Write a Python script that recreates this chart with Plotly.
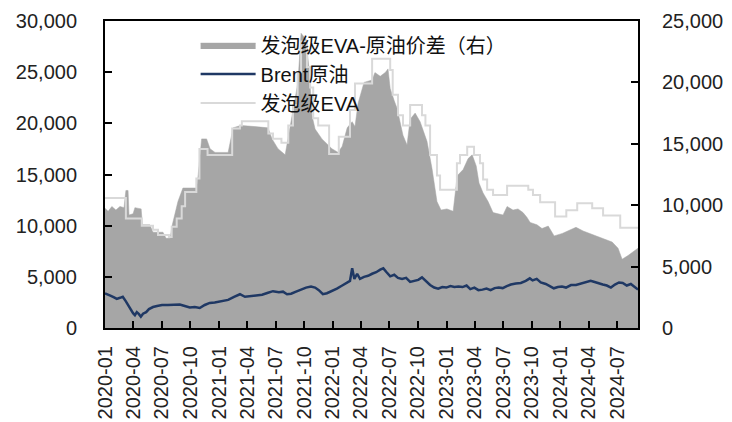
import plotly.graph_objects as go

# 发泡级EVA-原油价差 (right axis)
spread_dates = [
    "2020-01-01", "2020-01-11", "2020-01-23", "2020-02-05", "2020-02-18", "2020-03-02",
    "2020-03-08", "2020-03-15", "2020-03-18", "2020-03-31", "2020-04-06", "2020-04-26",
    "2020-04-30", "2020-05-24", "2020-06-03", "2020-07-05", "2020-07-15", "2020-07-28",
    "2020-08-03", "2020-08-22", "2020-09-07", "2020-10-21", "2020-10-26", "2020-11-06",
    "2020-11-22", "2020-12-03", "2020-12-19", "2021-01-30", "2021-02-15", "2021-03-12",
    "2021-04-26", "2021-06-07", "2021-06-20", "2021-07-09", "2021-08-01", "2021-08-10",
    "2021-08-26", "2021-09-11", "2021-09-21", "2021-10-07", "2021-10-17", "2021-10-26",
    "2021-11-05", "2021-11-27", "2021-12-29", "2022-01-18", "2022-01-31", "2022-02-16",
    "2022-03-04", "2022-03-13", "2022-03-23", "2022-04-11", "2022-05-07", "2022-05-16",
    "2022-06-02", "2022-06-18", "2022-06-27", "2022-07-04", "2022-07-17", "2022-07-26",
    "2022-08-14", "2022-08-27", "2022-09-06", "2022-09-22", "2022-10-08", "2022-10-30",
    "2022-11-15", "2022-12-01", "2022-12-14", "2023-01-02", "2023-01-22", "2023-02-04",
    "2023-02-23", "2023-03-11", "2023-03-24", "2023-04-06", "2023-04-15", "2023-04-28",
    "2023-05-14", "2023-05-30", "2023-06-15", "2023-07-01", "2023-07-14", "2023-08-02",
    "2023-08-18", "2023-09-03", "2023-09-16", "2023-09-26", "2023-10-18", "2023-11-03",
    "2023-11-23", "2023-12-12", "2024-01-07", "2024-01-26", "2024-02-20", "2024-03-14",
    "2024-04-12", "2024-05-14", "2024-06-15", "2024-07-04", "2024-07-17", "2024-08-05",
    "2024-08-25", "2024-09-06",
]
spread_values = [
    9750, 9500, 9900, 9600, 9900, 9800,
    11200, 11200, 9200, 9300, 9800, 9700,
    8400, 8400, 7800, 7800, 7300, 7300,
    8300, 10300, 11400, 11400, 12500, 15400,
    15400, 14600, 14300, 14300, 16300, 16500,
    16400, 16300, 15400, 14600, 14100, 15400,
    17900, 20000, 24000, 23500, 21000, 17300,
    16200, 15400, 14600, 14300, 14800, 16300,
    16800, 16400, 18300, 20000, 20200, 20800,
    20500, 20800, 21100, 19500, 18500, 17900,
    15700, 14900, 17000, 17500, 16800, 15200,
    13000, 10300, 9600, 9700, 9500, 12400,
    12900, 13800, 14100, 13200, 11800, 11000,
    10300, 9400, 9300, 9200, 9900, 9600,
    9700, 9400, 9000, 8600, 8400, 8100,
    8300, 7500, 7700, 7900, 8200, 7900,
    7600, 7300, 7000, 6500, 5600, 5900,
    6300, 6500,
]

# Brent原油 (left axis)
brent_dates = [
    "2020-01-01", "2020-01-11", "2020-01-20", "2020-01-30", "2020-02-08", "2020-02-18",
    "2020-02-27", "2020-03-08", "2020-03-18", "2020-03-24", "2020-03-31", "2020-04-06",
    "2020-04-12", "2020-04-19", "2020-04-25", "2020-05-02", "2020-05-12", "2020-05-21",
    "2020-06-03", "2020-06-16", "2020-07-02", "2020-07-21", "2020-08-09", "2020-08-28",
    "2020-09-13", "2020-09-29", "2020-10-15", "2020-10-31", "2020-11-16", "2020-12-02",
    "2020-12-18", "2021-01-10", "2021-01-30", "2021-02-18", "2021-03-09", "2021-03-25",
    "2021-04-10", "2021-04-30", "2021-05-19", "2021-06-07", "2021-06-23", "2021-07-12",
    "2021-07-25", "2021-08-07", "2021-08-20", "2021-09-05", "2021-09-21", "2021-10-07",
    "2021-10-23", "2021-11-05", "2021-11-17", "2021-11-30", "2021-12-13", "2021-12-29",
    "2022-01-14", "2022-01-31", "2022-02-16", "2022-02-25", "2022-03-04", "2022-03-11",
    "2022-03-20", "2022-03-29", "2022-04-11", "2022-04-24", "2022-05-07", "2022-05-20",
    "2022-06-02", "2022-06-12", "2022-06-21", "2022-07-04", "2022-07-17", "2022-07-29",
    "2022-08-11", "2022-08-24", "2022-09-06", "2022-09-19", "2022-10-02", "2022-10-14",
    "2022-10-27", "2022-11-09", "2022-11-22", "2022-12-05", "2022-12-18", "2022-12-31",
    "2023-01-13", "2023-01-26", "2023-02-08", "2023-02-21", "2023-03-06", "2023-03-18",
    "2023-03-31", "2023-04-13", "2023-04-26", "2023-05-09", "2023-05-22", "2023-06-04",
    "2023-06-17", "2023-06-30", "2023-07-13", "2023-07-26", "2023-08-11", "2023-08-27",
    "2023-09-12", "2023-09-25", "2023-10-04", "2023-10-17", "2023-10-30", "2023-11-15",
    "2023-11-28", "2023-12-11", "2023-12-24", "2024-01-06", "2024-01-19", "2024-02-04",
    "2024-02-20", "2024-03-06", "2024-03-22", "2024-04-07", "2024-04-20", "2024-05-03",
    "2024-05-16", "2024-05-29", "2024-06-11", "2024-06-24", "2024-07-07", "2024-07-19",
    "2024-08-01", "2024-08-14", "2024-08-27", "2024-09-06",
]
brent_values = [
    3390, 3300, 3150, 3000, 2850, 2950,
    3050, 2600, 2100, 1700, 1450, 1250,
    1550, 1350, 1100, 1400, 1550, 1850,
    2050, 2150, 2250, 2250, 2300, 2300,
    2150, 2000, 2050, 1950, 2250, 2450,
    2500, 2600, 2750, 3050, 3300, 3050,
    3100, 3200, 3250, 3450, 3600, 3500,
    3550, 3300, 3350, 3550, 3750, 3950,
    4050, 3950, 3700, 3300, 3400, 3600,
    3850, 4150, 4450, 4600, 5850, 4800,
    5300, 4800, 5000, 5100, 5300, 5450,
    5700, 5830, 5500, 5050, 5200, 4900,
    4800, 4900, 4500, 4600, 4700, 4950,
    4600, 4200, 3950, 3850, 4000, 3950,
    4100, 4000, 4050, 4000, 4150, 3800,
    3950, 3700, 3750, 3850, 3700, 3900,
    3950, 3900, 4100, 4250, 4350, 4400,
    4600, 4850, 4650, 4800, 4450, 4300,
    4100, 3880, 4000, 4050, 3950, 4200,
    4200, 4350, 4450, 4620, 4500, 4350,
    4250, 4150, 3950, 4250, 4450, 4400,
    4150, 4300, 3950, 3750,
]

# 发泡级EVA (left axis, stepped quotes)
eva_dates = [
    "2020-01-01", "2020-03-08", "2020-04-28", "2020-06-03", "2020-06-19", "2020-07-24",
    "2020-08-02", "2020-08-18", "2020-09-03", "2020-09-14", "2020-10-20", "2020-10-30",
    "2020-11-25", "2021-02-12", "2021-03-09", "2021-03-15", "2021-06-08", "2021-06-23",
    "2021-07-20", "2021-08-11", "2021-08-26", "2021-09-10", "2021-09-21", "2021-10-10",
    "2021-10-20", "2021-10-30", "2021-11-15", "2021-12-20", "2022-01-20", "2022-02-25",
    "2022-03-13", "2022-05-07", "2022-07-04", "2022-07-12", "2022-07-29", "2022-08-14",
    "2022-09-06", "2022-10-14", "2022-10-25", "2022-11-09", "2022-12-01", "2022-12-11",
    "2023-02-03", "2023-02-13", "2023-03-08", "2023-03-30", "2023-04-18", "2023-04-28",
    "2023-05-11", "2023-05-30", "2023-07-14", "2023-09-20", "2023-10-05", "2023-10-28",
    "2023-12-15", "2024-01-20", "2024-02-24", "2024-04-12", "2024-05-17", "2024-07-11",
    "2024-09-06",
]
eva_values = [
    12700, 10700, 10000, 9600, 9100, 8900,
    9900, 10700, 11900, 13300, 14600, 17500,
    16900, 19500, 19800, 20200, 19000, 18500,
    18100, 19800, 21800, 25000, 28000, 25500,
    23500, 20500, 19800, 17000, 18700, 21300,
    23900, 26300, 25200, 22800, 20800, 19800,
    21800, 20800, 19800, 16900, 14900, 13500,
    16100, 16900, 17700, 16900, 16100, 14500,
    13500, 13000, 13900, 13500, 13000, 12300,
    10900, 11500, 12200, 11700, 11000, 9800,
    9800,
]

axis_font = dict(family="Liberation Sans, Arial, sans-serif", size=20, color="#222222")
legend_font = dict(family="Liberation Sans, Noto Sans CJK SC, sans-serif", size=20, color="#111111")

fig = go.Figure()

fig.add_trace(go.Scatter(
    x=spread_dates, y=spread_values, name="发泡级EVA-原油价差（右）",
    mode="lines", fill="tozeroy", fillcolor="#a6a6a6",
    line=dict(color="#a6a6a6", width=0.5), yaxis="y",
))
fig.add_trace(go.Scatter(
    x=brent_dates, y=brent_values, name="Brent原油",
    mode="lines", line=dict(color="#1f3864", width=2.5), yaxis="y2",
))
fig.add_trace(go.Scatter(
    x=eva_dates, y=eva_values, name="发泡级EVA",
    mode="lines", line=dict(color="#d9d9d9", width=2, shape="hv"), yaxis="y2",
))

tick_style = dict(ticks="inside", ticklen=7, tickwidth=2, tickcolor="black",
                  showline=True, linewidth=2, linecolor="black",
                  showgrid=False, zeroline=False, tickfont=axis_font, automargin=False)

fig.update_layout(
    width=732, height=422,
    margin=dict(l=105, r=94, t=21, b=94),
    paper_bgcolor="white", plot_bgcolor="white",
    showlegend=True,
    legend=dict(
        x=0.17, y=0.985, xanchor="left", yanchor="top",
        bgcolor="rgba(0,0,0,0)", font=legend_font,
        itemwidth=55, tracegroupgap=0,
    ),
    xaxis=dict(
        type="date", range=["2020-01-01", "2024-09-06"],
        tick0="2020-01-01", dtick="M3", tickformat="%Y-%m", tickangle=-90,
        mirror=True, ticklabelstandoff=8, **tick_style,
    ),
    yaxis=dict(
        side="right", range=[0, 25000], dtick=5000, tickformat=",",
        ticklabelstandoff=18, **tick_style,
    ),
    yaxis2=dict(
        overlaying="y", side="left", range=[0, 30000], dtick=5000, tickformat=",",
        ticklabelstandoff=22, **tick_style,
    ),
)

fig.write_html("out.html")
